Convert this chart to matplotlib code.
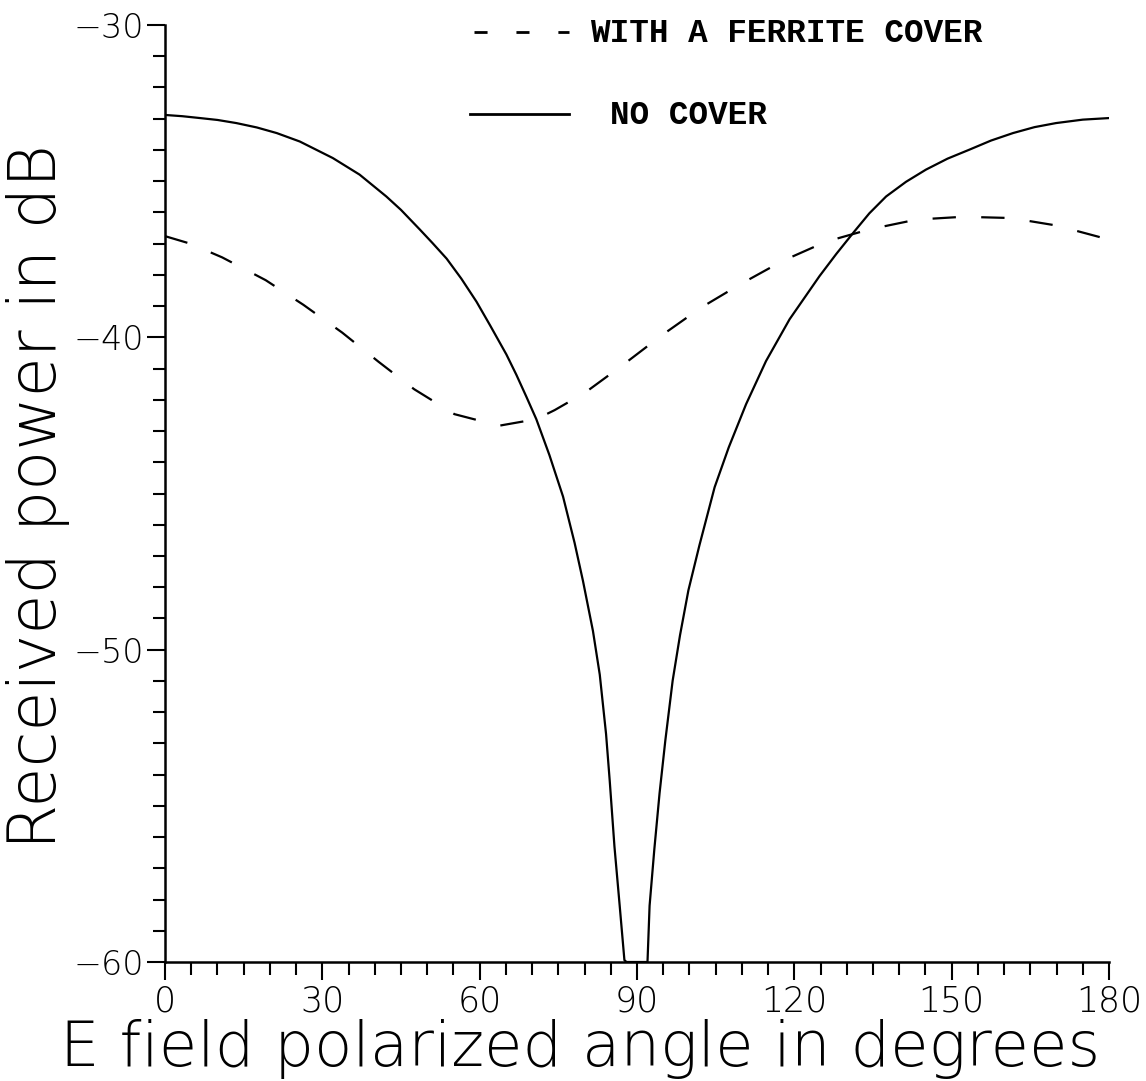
import matplotlib
matplotlib.use("Agg")
import matplotlib.pyplot as plt
from matplotlib.lines import Line2D
from matplotlib.ticker import MultipleLocator

# Received power versus E-field polarization angle
angle_no_cover = [0, 3.3, 6.7, 10, 13.6, 17.5, 21.3, 25.7, 32, 37.1, 42.2,
                  45, 48.6, 51, 53.7, 56.5, 59.4, 62, 65.1, 67, 68.9, 70.8,
                  73.3, 75.9, 78.1, 79.7, 81.6, 82.9, 84.1, 84.8, 85.7, 86.7,
                  87.6, 88.0, 92.0, 92.4, 93.3, 94.3, 95.4, 96.8, 98.2, 99.8,
                  101.9, 104.8, 107.5, 110.8, 114.6, 119.1, 124.8, 128,
                  131.2, 134.3, 137.5, 141.3, 145.1, 149.2, 153.4, 157.5,
                  161.7, 165.8, 169.9, 175, 180]
power_no_cover = [-32.88, -32.92, -32.98, -33.04, -33.14, -33.28, -33.46,
                  -33.73, -34.26, -34.79, -35.49, -35.92, -36.55, -36.98,
                  -37.48, -38.12, -38.86, -39.62, -40.55, -41.20, -41.90,
                  -42.62, -43.77, -45.10, -46.58, -47.80, -49.40, -50.80,
                  -52.70, -54.20, -56.30, -58.20, -59.94, -60.0, -60.0,
                  -58.20, -56.40, -54.60, -52.91, -50.99, -49.54, -48.10,
                  -46.66, -44.80, -43.52, -42.14, -40.76, -39.42, -38.04,
                  -37.33, -36.66, -36.03, -35.49, -35.02, -34.63, -34.28,
                  -33.99, -33.70, -33.46, -33.27, -33.14, -33.03, -32.98]

angle_ferrite = [0, 4.8, 10.9, 19.2, 26.4, 33.8, 40.7, 47.5, 55.2, 63.7, 70.8,
                 74.3, 80.1, 87.5, 94.6, 102.2, 109.7, 117.8, 126, 134.4,
                 143.3, 152.2, 161.3, 170, 180]
power_ferrite = [-36.76, -37.00, -37.44, -38.17, -38.96, -39.85, -40.78,
                 -41.66, -42.46, -42.83, -42.62, -42.33, -41.77, -40.86,
                 -39.95, -39.05, -38.30, -37.55, -36.94, -36.54, -36.23,
                 -36.14, -36.18, -36.42, -36.87]

x_ticks = [0, 30, 60, 90, 120, 150, 180]
y_ticks = [-60, -50, -40, -30]

legend_ferrite = "WITH A FERRITE COVER"
legend_no_cover = "NO COVER"
x_title = "E field polarized angle in degrees"
y_title = "Received power in dB"

label_font = dict(family="DejaVu Sans", weight=200)
legend_font = dict(family="Liberation Mono", weight="bold", size=23.5)

W, H = 1146, 1081
fig = plt.figure(figsize=(W / 100, H / 100), dpi=100)
ax = fig.add_axes([165 / W, 1 - 962 / H, 944 / W, 937 / H])

ax.plot(angle_no_cover, power_no_cover, color="black", lw=1.6,
        solid_joinstyle="round")
ax.plot(angle_ferrite, power_ferrite, color="black", lw=1.6,
        dashes=(10.5, 11.4))

ax.set_xlim(0, 180)
ax.set_ylim(-60, -30)
for side in ("top", "right"):
    ax.spines[side].set_visible(False)
for side in ("left", "bottom"):
    ax.spines[side].set_linewidth(1.8)

ax.set_xticks(x_ticks)
ax.set_yticks(y_ticks)
ax.set_xticklabels([str(v) for v in x_ticks])
ax.set_yticklabels([str(v).replace("-", "\u2212") for v in y_ticks])
ax.xaxis.set_minor_locator(MultipleLocator(5))
ax.yaxis.set_minor_locator(MultipleLocator(1))
ax.tick_params(axis="x", which="major", direction="out", length=13,
               width=1.5, pad=3, labelsize=25)
ax.tick_params(axis="x", which="minor", direction="out", length=9,
               width=1.5)
ax.tick_params(axis="y", which="major", direction="out", length=13,
               width=1.5, pad=2, labelsize=24)
ax.tick_params(axis="y", which="minor", direction="out", length=9,
               width=1.5)
for lab in ax.get_xticklabels() + ax.get_yticklabels():
    lab.set_family(label_font["family"])
    lab.set_weight(label_font["weight"])

# Axis titles, placed in figure pixel space
fig.text(580 / W, 1 - 1049 / H, x_title, fontsize=45, ha="center",
         va="center", **label_font)
fig.text(38 / W, 1 - 497 / H, y_title, fontsize=47, rotation=90,
         ha="center", va="center", **label_font)

# Legend
fig.add_artist(Line2D([474 / W, 569 / W], [1 - 32 / H, 1 - 32 / H],
                      color="black", lw=2.0, dashes=(4.7, 10.4),
                      transform=fig.transFigure))
fig.text(590 / W, 1 - 33 / H, legend_ferrite, va="center", ha="left",
         **legend_font)
fig.add_artist(Line2D([470 / W, 569 / W], [1 - 114 / H, 1 - 114 / H],
                      color="black", lw=2.0, transform=fig.transFigure))
fig.text(610 / W, 1 - 115 / H, legend_no_cover, va="center", ha="left",
         **legend_font)

fig.savefig("out.png", dpi=100)
